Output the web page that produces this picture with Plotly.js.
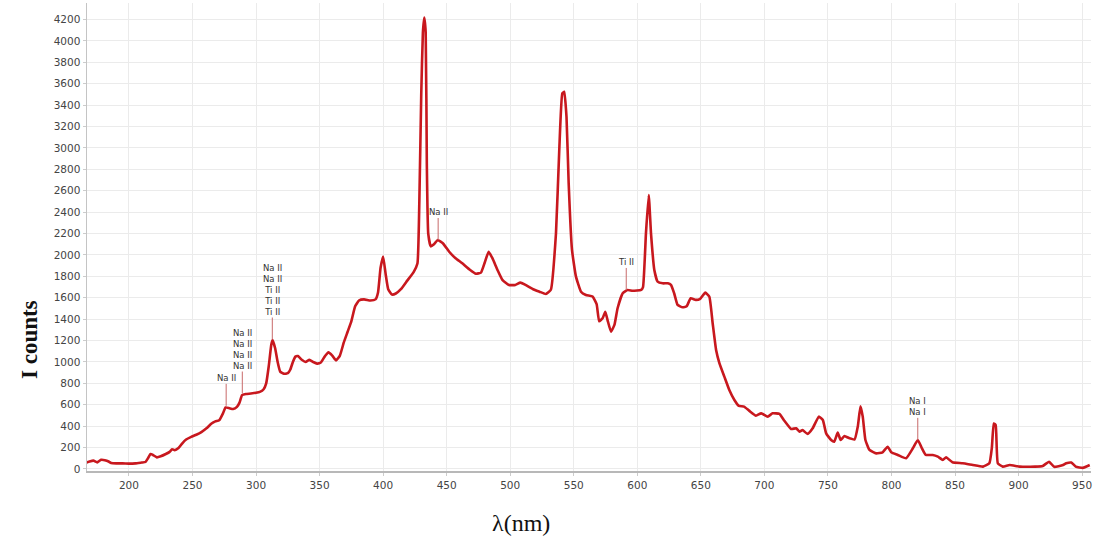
<!DOCTYPE html>
<html>
<head>
<meta charset="utf-8">
<script src="https://cdn.plot.ly/plotly-3.0.1.min.js"></script>
<style>html,body{margin:0;padding:0;background:#fff;}#chart{width:1093px;height:547px;}</style>
</head>
<body>
<div id="chart"></div>
<script>
// Wavelength (nm)
const wavelength = [166,169,172,175,178,181,184,186,190,195,200,205,210,213,215,217,219,222,225,229,232,234,236,239,242,245,249,253,257,261,265,268,271,274,276,279,282,285,287,289,292,296,300,303,306,308,310,312,313,315,317,319,322,325,327,329,331,333,336,339,342,345,348,351,354,357,360,363,366,369,372,375,378,381,385,390,394,396,398,400,402,404,407,410,414,419,424,427,428.5,430,431.3,432.4,433.5,434.4,435.5,437.5,440,443,447,452,457,462,468,473,477,480,483,486,490,494,499,504,508,512,518,523,528,532,536,538.6,541,542.5,544.3,546,548.6,551.7,555.7,559.6,564.8,568,570,572.7,574.8,576.6,579.3,582,584.5,588.5,592.4,596.3,603,604.5,606.8,609,610.8,613.4,616,620,624,626.5,629,631.7,635.7,638.8,642,646,649.5,653.5,656.7,659.3,662,664.6,668.5,672.4,676.4,680,684,688,693.4,697.4,702.6,706.5,711.8,715.7,721,725,727.6,730,734,738,742.8,746,748.6,752.5,755,757.7,760,763,767,771,773.5,775.6,777.4,779.5,782.7,788,793,797,799.8,805,811.5,816.8,820.7,824,827,832.5,836.5,840.4,843,848,856,864,872,877,879,880.5,882,883.7,887.6,893,901,913,919,924,928,935,937.5,941.5,945,950.6,956];
// Intensity (counts)
const counts = [58,70,78,62,85,82,70,56,52,52,50,52,60,65,100,140,130,108,118,140,160,185,175,195,240,275,300,320,345,380,425,445,455,520,575,568,560,580,620,690,700,705,712,720,745,800,960,1160,1205,1130,1000,910,890,895,930,1000,1050,1055,1020,1000,1020,1000,985,995,1050,1090,1060,1015,1060,1180,1280,1380,1520,1575,1585,1575,1585,1650,1880,1985,1820,1680,1630,1640,1680,1760,1840,1920,2500,3500,4080,4220,4080,2850,2200,2080,2100,2140,2110,2030,1970,1925,1865,1825,1835,1930,2030,1970,1860,1765,1720,1720,1742,1720,1680,1657,1635,1675,2200,2980,3510,3525,3290,2670,2050,1800,1657,1626,1611,1540,1380,1408,1470,1392,1283,1346,1502,1642,1673,1665,1673,1700,2200,2560,2200,1860,1751,1735,1735,1720,1642,1533,1511,1520,1595,1580,1590,1648,1610,1362,1112,990,863,738,645,589,583,545,498,520,489,520,514,451,374,380,349,364,327,380,489,458,333,271,255,340,271,308,287,277,396,585,489,271,178,146,156,208,156,131,100,193,271,193,131,131,115,84,109,62,53,37,22,53,200,425,410,53,22,37,22,22,28,68,20,37,53,60,22,10,37];

// Line identifications
const lineLabels = ["Na II", "Na II<br>Na II<br>Na II<br>Na II", "Na II<br>Na II<br>Ti II<br>Ti II<br>Ti II", "Na II", "Ti II", "Na I<br>Na I"];
const lineX = [276.5, 289.2, 312.8, 443.3, 591.3, 820.7];
const lineY = [590, 705, 1210, 2140, 1673, 272];

const xTicks = [200,250,300,350,400,450,500,550,600,650,700,750,800,850,900,950];
const yTicks = [0,200,400,600,800,1000,1200,1400,1600,1800,2000,2200,2400,2600,2800,3000,3200,3400,3600,3800,4000,4200];

const annotations = lineLabels.map((t, i) => ({
  x: lineX[i], y: lineY[i], xref: 'x', yref: 'y',
  text: t, showarrow: true, arrowhead: 0, arrowwidth: 1, arrowcolor: '#c86a6a',
  ax: 0, ay: -22, standoff: 0, yanchor: 'bottom',
  font: {family: 'DejaVu Sans, sans-serif', size: 8.5, color: '#333'},
  borderpad: 0
}));

annotations.push({
  xref: 'paper', yref: 'paper', x: 0.432, y: -0.111, showarrow: false,
  text: 'λ(nm)', font: {family: 'Liberation Serif, Times New Roman, serif', size: 24, color: '#111'},
  xanchor: 'center', yanchor: 'middle'
});
annotations.push({
  xref: 'paper', yref: 'paper', x: -0.0567, y: 0.28, showarrow: false, textangle: -90,
  text: '<b>I counts</b>', font: {family: 'Liberation Serif, Times New Roman, serif', size: 23, color: '#111'},
  xanchor: 'center', yanchor: 'middle'
});

const trace = {
  x: wavelength, y: counts, type: 'scatter', mode: 'lines',
  line: {color: '#c8181e', width: 2.6, shape: 'spline', smoothing: 0.4},
  hoverinfo: 'x+y'
};

const layout = {
  width: 1093, height: 547,
  margin: {l: 87, r: 2, t: 3, b: 76},
  paper_bgcolor: '#fff', plot_bgcolor: '#fff',
  showlegend: false,
  xaxis: {
    range: [167, 957], tickvals: xTicks, ticktext: xTicks.map(String),
    showgrid: true, gridcolor: '#ebebeb', gridwidth: 1,
    showline: true, linecolor: '#b8b8b8', linewidth: 2,
    ticks: 'outside', ticklen: 3, tickcolor: '#ccc',
    tickfont: {family: 'DejaVu Sans, sans-serif', size: 10.5, color: '#444'},
    zeroline: false
  },
  yaxis: {
    range: [-19, 4355], tickvals: yTicks, ticktext: yTicks.map(String),
    showgrid: true, gridcolor: '#ebebeb', gridwidth: 1,
    showline: true, linecolor: '#c4c4c4', linewidth: 1.5,
    ticks: 'outside', ticklen: 3, tickcolor: '#ccc',
    tickfont: {family: 'DejaVu Sans, sans-serif', size: 10.5, color: '#444'},
    zeroline: false
  },
  annotations: annotations
};

Plotly.newPlot('chart', [trace], layout, {displayModeBar: false, staticPlot: true});
</script>
</body>
</html>
